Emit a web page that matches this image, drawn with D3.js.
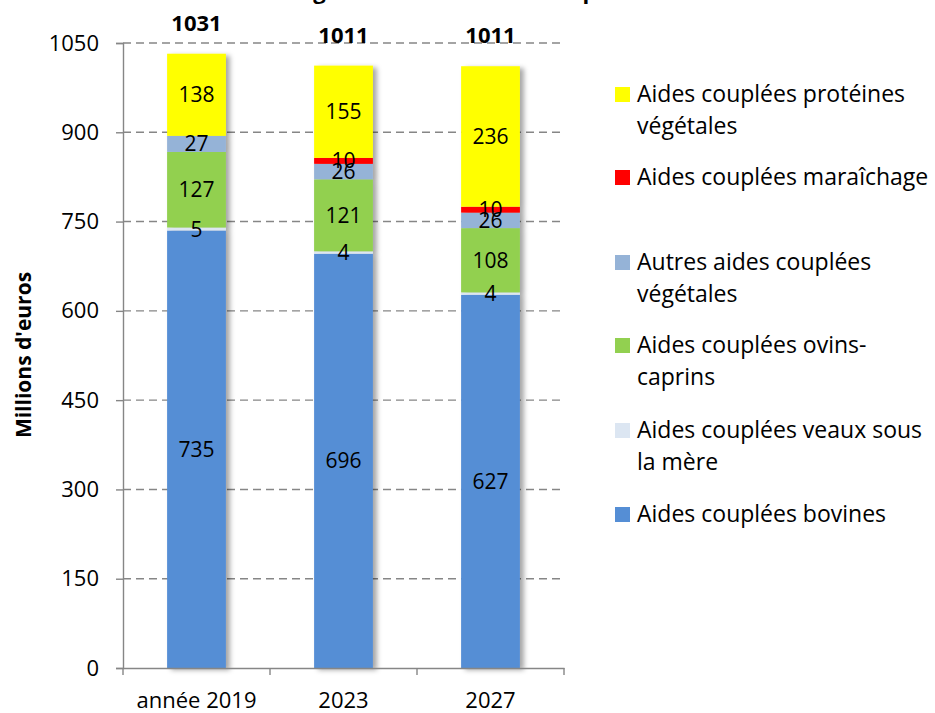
<!DOCTYPE html>
<html>
<head>
<meta charset="utf-8">
<script src="https://cdn.jsdelivr.net/npm/d3@7"></script>
<style>
  body { margin: 0; background: #fff; }
  text { font-family: "Open Sans", sans-serif; fill: #000; }
</style>
</head>
<body>
<svg id="chart" width="935" height="713"></svg>
<script>
// categories and series (millions d'euros)
const years = ['année 2019', '2023', '2027'];
const bovines = [735, 696, 627];
const veaux = [5, 4, 4];
const ovins = [127, 121, 108];
const autres = [27, 26, 26];
const maraichage = [0, 10, 10];
const proteines = [138, 155, 236];
const totals = [1031, 1011, 1011];
const yTicks = [0, 150, 300, 450, 600, 750, 900, 1050];

const seriesNames = [
    'Aides couplées bovines',
    'Aides couplées veaux sous la mère',
    'Aides couplées ovins-caprins',
    'Autres aides couplées végétales',
    'Aides couplées maraîchage',
    'Aides couplées protéines végétales',
];
const seriesValues = [bovines, veaux, ovins, autres, maraichage, proteines];
const colours = ['#558ed5', '#dce6f2', '#92d050', '#95b3d7', '#ff0000', '#ffff00'];

const svg = d3.select('#chart');
const margin = { top: 43, left: 123, bottom: 45, right: 371 };
const width = 935 - margin.left - margin.right;
const height = 713 - margin.top - margin.bottom;

const defs = svg.append('defs');
defs.append('filter')
    .attr('id', 'shadow')
    .attr('x', '-20%').attr('y', '-5%')
    .attr('width', '150%').attr('height', '115%')
    .append('feDropShadow')
    .attr('dx', 4).attr('dy', 2)
    .attr('stdDeviation', 2.5)
    .attr('flood-color', '#000')
    .attr('flood-opacity', 0.35);

// title, cut at the top edge as in the source
svg.append('text')
    .attr('x', 455).attr('y', -1)
    .attr('text-anchor', 'middle')
    .style('font-size', '22px')
    .style('font-weight', 'bold')
    .text('Budget annuel des aides couplées');

const g = svg.append('g').attr('transform', `translate(${margin.left},${margin.top})`);

const x = d3.scaleBand().domain(years).range([0, width]).paddingInner(0.6).paddingOuter(0.3);
const y = d3.scaleLinear().domain([0, 1050]).range([height, 0]);

// gridlines
g.append('g')
    .selectAll('line')
    .data(yTicks.filter(d => d > 0))
    .join('line')
    .attr('x1', 0).attr('x2', width)
    .attr('y1', d => y(d)).attr('y2', d => y(d))
    .attr('stroke', '#868686')
    .attr('stroke-width', 1.4)
    .attr('stroke-dasharray', '8,5');

// stacked data
const rows = years.map((yr, i) => {
    const row = { year: yr };
    seriesNames.forEach((s, k) => { row[s] = seriesValues[k][i]; });
    return row;
});
const stack = d3.stack().keys(seriesNames)(rows);

const bars = g.append('g').attr('filter', 'url(#shadow)');
stack.forEach((layer, k) => {
    bars.selectAll(`.s${k}`)
        .data(layer)
        .join('rect')
        .attr('x', d => x(d.data.year))
        .attr('width', x.bandwidth())
        .attr('y', d => y(d[1]))
        .attr('height', d => y(d[0]) - y(d[1]))
        .attr('fill', colours[k]);
});

// value labels
stack.forEach((layer) => {
    g.append('g')
        .selectAll('text')
        .data(layer.filter(d => d[1] - d[0] > 0))
        .join('text')
        .attr('x', d => x(d.data.year) + x.bandwidth() / 2)
        .attr('y', d => y((d[0] + d[1]) / 2))
        .attr('dy', '0.36em')
        .attr('text-anchor', 'middle')
        .style('font-size', '21px')
        .text(d => d[1] - d[0]);
});

// totals
g.append('g')
    .selectAll('text')
    .data(years)
    .join('text')
    .attr('x', d => x(d) + x.bandwidth() / 2)
    .attr('y', (d, i) => y(totals[i]) - 31)
    .attr('dy', '0.36em')
    .attr('text-anchor', 'middle')
    .style('font-size', '22px')
    .style('font-weight', 'bold')
    .text((d, i) => totals[i]);

// y axis
const yAxis = g.append('g')
    .call(d3.axisLeft(y).tickValues(yTicks).tickSize(7).tickPadding(17).tickFormat(d3.format('d')));
yAxis.select('.domain').attr('stroke', '#868686').attr('stroke-width', 1.4);
yAxis.selectAll('.tick line').attr('stroke', '#868686').attr('stroke-width', 1.4);
yAxis.selectAll('.tick text').style('font-size', '22px').style('font-family', '"Open Sans", sans-serif');

// x axis
const xAxis = g.append('g').attr('transform', `translate(0,${height})`)
    .call(d3.axisBottom(x).tickSize(0).tickPadding(24));
xAxis.select('.domain').attr('stroke', '#868686').attr('stroke-width', 1.4);
xAxis.selectAll('.tick text').style('font-size', '22px').style('font-family', '"Open Sans", sans-serif');
const step = x.step();
xAxis.selectAll('.sep')
    .data(d3.range(years.length + 1))
    .join('line')
    .attr('x1', i => i * step).attr('x2', i => i * step)
    .attr('y1', 0).attr('y2', 7)
    .attr('stroke', '#868686').attr('stroke-width', 1.4);

// y label
svg.append('text')
    .attr('transform', 'translate(23,355) rotate(-90)')
    .attr('text-anchor', 'middle')
    .attr('dy', '0.36em')
    .style('font-size', '21px')
    .style('font-weight', 'bold')
    .text("Millions d'euros");

// legend
const legendItems = [
    { k: 5, lines: ['Aides couplées protéines', 'végétales'], y: 94 },
    { k: 4, lines: ['Aides couplées maraîchage'], y: 177 },
    { k: 3, lines: ['Autres aides couplées', 'végétales'], y: 262 },
    { k: 2, lines: ['Aides couplées ovins-', 'caprins'], y: 345 },
    { k: 1, lines: ['Aides couplées veaux sous', 'la mère'], y: 430 },
    { k: 0, lines: ['Aides couplées bovines'], y: 514 },
];
const legend = svg.append('g');
legendItems.forEach(item => {
    legend.append('rect')
        .attr('x', 615).attr('y', item.y - 7)
        .attr('width', 15).attr('height', 15)
        .attr('fill', colours[item.k]);
    item.lines.forEach((line, j) => {
        legend.append('text')
            .attr('x', 637).attr('y', item.y + j * 32)
            .attr('dy', '0.36em')
            .style('font-size', '23px')
            .text(line);
    });
});
</script>
</body>
</html>
